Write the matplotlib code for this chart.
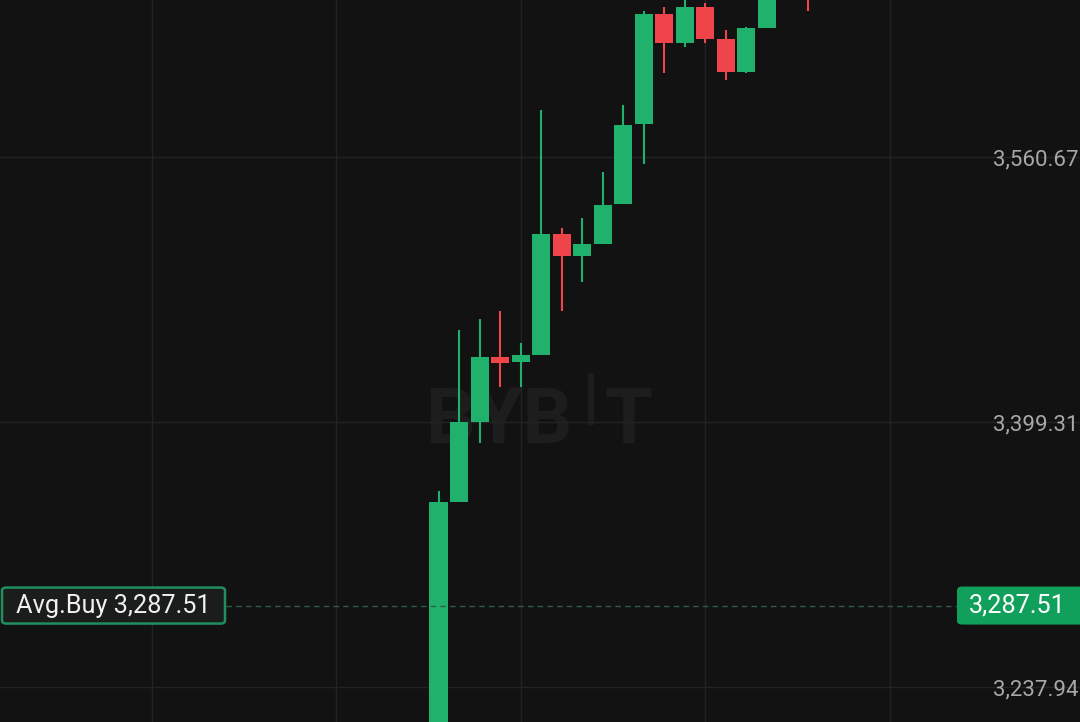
import matplotlib
matplotlib.use("Agg")
import matplotlib.pyplot as plt
from matplotlib.patches import FancyBboxPatch, Rectangle
from matplotlib.transforms import blended_transform_factory

# ---- data ----
idx = list(range(19))
opens  = [3195.0, 3350.6, 3399.3, 3438.9, 3435.9, 3440.1, 3513.8, 3500.4, 3507.7, 3532.1,
          3580.8, 3647.8, 3630.1, 3652.0, 3632.5, 3612.5, 3639.3, 3668.0, 3680.0]
closes = [3350.6, 3399.3, 3438.9, 3435.3, 3440.1, 3513.8, 3500.4, 3507.7, 3531.5, 3580.2,
          3647.8, 3630.1, 3652.0, 3632.5, 3612.5, 3639.3, 3668.0, 3680.0, 3662.0]
highs  = [3357.3, 3455.4, 3462.1, 3467.0, 3447.4, 3589.3, 3517.5, 3523.6, 3551.6, 3592.4,
          3649.6, 3652.0, 3658.1, 3654.5, 3638.0, 3639.9, 3672.0, 3685.0, 3688.0]
lows   = [3190.0, 3350.6, 3386.5, 3420.6, 3420.6, 3440.1, 3467.0, 3484.6, 3507.7, 3532.1,
          3556.4, 3611.9, 3627.7, 3630.1, 3607.6, 3611.9, 3639.3, 3662.0, 3649.6]
price_ticks = [3560.67, 3399.31, 3237.94]
tick_labels = ["3,560.67", "3,399.31", "3,237.94"]
avg_buy = 3287.51
avg_label = "Avg.Buy 3,287.51"
avg_tag = "3,287.51"
vgrid_idx = [-14, -5, 4, 13, 22]

BG = "#121212"
GREEN = "#20b26c"
RED = "#ef454a"
GRID = "#232323"
WM = "#1d1d1d"

fig = plt.figure(figsize=(10.8, 7.22), dpi=100, facecolor=BG)
ax = fig.add_axes([0, 0, 1, 1], facecolor=BG)
ax.set_xlim(-21.39, 31.29)
ax.set_ylim(3216.6, 3656.3)
for s in ax.spines.values():
    s.set_visible(False)

# grid
ax.set_xticks(vgrid_idx)
ax.set_yticks(price_ticks)
ax.grid(True, color=GRID, linewidth=1.0)
ax.set_axisbelow(True)
ax.tick_params(axis='x', length=0, labelbottom=False)
ax.yaxis.tick_right()
ax.tick_params(axis='y', length=0, pad=-62.6, labelsize=16, labelcolor="#a8a8a8")
ax.set_yticklabels(tick_labels, fontfamily="Roboto")

# watermark
wm_kw = dict(transform=ax.transAxes, color=WM, fontfamily="Roboto",
             fontweight="bold", fontsize=56, va="baseline", zorder=0.5)
ax.text(425 / 1080, 1 - 443 / 722, "BYB", ha="left", **wm_kw)
ax.text(653 / 1080, 1 - 443 / 722, "T", ha="right", **wm_kw)
ax.add_patch(Rectangle((588 / 1080, 1 - 425 / 722), 6 / 1080, 52 / 722,
                       transform=ax.transAxes, color=WM, zorder=0.5, lw=0))

# candles
for i, o, c, h, l in zip(idx, opens, closes, highs, lows):
    col = GREEN if c >= o else RED
    ax.vlines(i, l, h, color=col, linewidth=1.5, zorder=2)
    ax.bar(i, abs(c - o), bottom=min(o, c), width=0.88, color=col, zorder=3, linewidth=0)

# avg buy line
bt = blended_transform_factory(ax.transAxes, ax.transData)
ax.plot([226 / 1080, 957 / 1080], [avg_buy, avg_buy], transform=bt, color="#2e5c47",
        linewidth=1.0, linestyle=(0, (4, 3)), zorder=4)

# left label
ya = ax.transData.transform((0, avg_buy))[1]
yfrac = ya / 722
box = FancyBboxPatch((2 / 1080, yfrac - 18 / 722), 223 / 1080, 36 / 722,
                     boxstyle="round,pad=0,rounding_size=0.004",
                     transform=ax.transAxes, facecolor="#1b1d1c", edgecolor="#1f8f5f",
                     linewidth=1.8, zorder=5)
ax.add_patch(box)
ax.text(16 / 1080, yfrac, avg_label, transform=ax.transAxes, ha="left", va="center",
        color="#f0f0f0", fontsize=18.2, fontfamily="Roboto", zorder=6)

# right tag
tag = FancyBboxPatch((957 / 1080, yfrac - 19 / 722), 130 / 1080, 38 / 722,
                     boxstyle="round,pad=0,rounding_size=0.005",
                     transform=ax.transAxes, facecolor="#11a05c", edgecolor="none",
                     zorder=5)
ax.add_patch(tag)
ax.text(969 / 1080, yfrac, avg_tag, transform=ax.transAxes, ha="left", va="center",
        color="#ffffff", fontsize=18.2, fontfamily="Roboto", zorder=6)

fig.savefig("out.png", dpi=100, facecolor=BG)
